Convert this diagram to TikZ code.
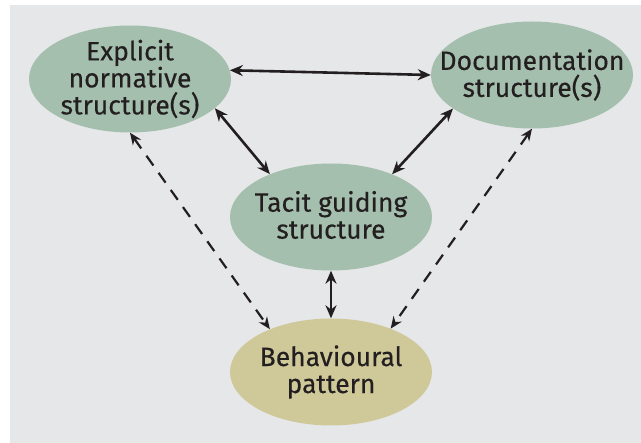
\documentclass[tikz,border=0pt]{standalone}
\usepackage{fontspec}
\setmainfont{Fira Sans}
\usetikzlibrary{shapes.geometric,arrows.meta}
\definecolor{panel}{HTML}{E6E7E9}
\definecolor{sage}{HTML}{A4BFAD}
\definecolor{straw}{HTML}{CFC99A}
\definecolor{ink}{HTML}{231F20}
\tikzset{
  blob/.style={ellipse, fill=sage, draw=none, inner sep=0pt,
    minimum width=202pt, minimum height=107pt},
  caption/.style={align=center, inner sep=0pt, text=ink,
    font=\fontsize{26.5}{27}\selectfont\addfontfeature{FakeBold=0.35}},
  link/.style={ink, line width=2.6pt,
    {Stealth[length=13pt,width=11pt]}-{Stealth[length=13pt,width=11pt]}},
  dashlink/.style={ink, line width=2.2pt, dash pattern=on 12pt off 9pt,
    {Stealth[length=12pt,width=10pt]}-{Stealth[length=12pt,width=10pt]}}
}
\begin{document}
\begin{tikzpicture}[x=1pt,y=-1pt]
  \useasboundingbox (0,0) rectangle (641,443);
  \fill[white] (0,0) rectangle (641,443);
  \fill[panel] (10,5) rectangle (641,443);

  % the four ellipses, sized independently of their wording
  \node[blob] (e) at (130,79) {};
  \node[blob] (d) at (532,75) {};
  \node[blob] (t) at (331,217) {};
  \node[blob, fill=straw] (b) at (331,372) {};

  % wording centred in each ellipse
  \node[caption] (e-text) at (e) {Explicit\\normative\\structure(s)};
  \node[caption] (d-text) at (d) {Documentation\\structure(s)};
  \node[caption] (t-text) at ([yshift=2pt]t.center) {Tacit guiding\\structure};
  \node[caption] (b-text) at (b) {Behavioural\\pattern};

  \draw[link] (e.5) -- (d.west);
  \draw[link] (e.-19) -- (t.145);
  \draw[link] (d.203) -- (t.35);
  \draw[link] (t.south) -- (b.north);
  \draw[dashlink] (e.south) -- (b.145);
  \draw[dashlink] (d.south) -- (b.36);
\end{tikzpicture}
\end{document}
